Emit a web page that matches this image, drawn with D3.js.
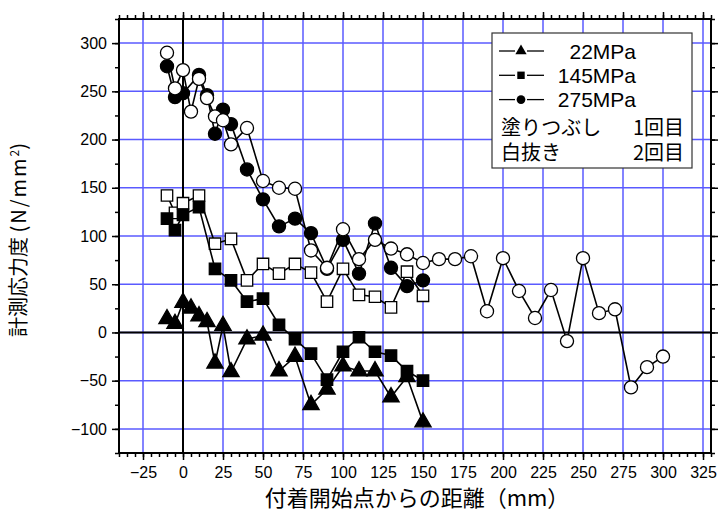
<!DOCTYPE html>
<html>
<head>
<meta charset="utf-8">
<script src="https://cdn.jsdelivr.net/npm/d3@7"></script>
<style>
  body { margin: 0; background: #fff; }
  svg text { font-family: "Liberation Sans", Arial, sans-serif; }
  .jp { font-family: "Noto Sans CJK JP", sans-serif; }
</style>
</head>
<body>
<svg width="718" height="520"></svg>
<script>
// 22MPa (1st run, filled triangles)
var x22 = [-10, -5, 0, 5, 10, 15, 20, 25, 30, 40, 50, 60, 70, 80, 90, 100, 110, 120, 130, 140, 150];
var y22 = [14, 9, 31, 25, 17, 11, -32, 7, -41, -7, -3, -40, -25, -75, -59, -35, -40, -40, -67, -46, -93];

// 145MPa
var x145a = [-10, -5, 0, 10, 20, 30, 40, 50, 60, 70, 80, 90, 100, 110, 120, 130, 140, 150];
var y145a = [118, 106, 122, 130, 66, 54, 32, 35, 8, -7, -22, -49, -20, -5, -20, -24, -40, -50];
var x145b = [-10, -5, 0, 10, 20, 30, 40, 50, 60, 70, 80, 90, 100, 110, 120, 130, 140, 150];
var y145b = [142, 124, 134, 142, 92, 97, 54, 71, 61, 71, 62, 32, 66, 39, 37, 26, 63, 38];

// 275MPa
var x275a = [-10, -5, 0, 10, 15, 20, 25, 30, 40, 50, 60, 70, 80, 90, 100, 110, 120, 130, 140, 150];
var y275a = [276, 244, 248, 267, 246, 206, 231, 216, 169, 138, 110, 118, 103, 66, 96, 61, 113, 67, 48, 54];
var x275b = [-10, -5, 0, 5, 10, 15, 20, 25, 30, 40, 50, 60, 70, 80, 90, 100, 110, 120, 130, 140, 150,
             160, 170, 180, 190, 200, 210, 220, 230, 240, 250, 260, 270, 280, 290, 300];
var y275b = [290, 253, 272, 229, 263, 243, 224, 220, 195, 212, 157, 150, 149, 85, 67, 107, 76, 96, 87, 81, 72,
             76, 76, 79, 22, 77, 43, 15, 44, -9, 77, 20, 24, -57, -36, -25];

var xTicks = d3.range(-25, 326, 25);
var yTicks = d3.range(-100, 301, 50);
var legendLabels = ["22MPa", "145MPa", "275MPa"];

var svg = d3.select("svg");
var pL = 119, pR = 711, pT = 19, pB = 453;

var x = d3.scaleLinear().domain([-40, 330]).range([pL, pR]);
var y = d3.scaleLinear().domain([-125, 325]).range([pB, pT]);

// grid
svg.append("g").selectAll("line").data(xTicks).enter().append("line")
    .attr("x1", function(d) { return x(d); }).attr("x2", function(d) { return x(d); })
    .attr("y1", pT).attr("y2", pB)
    .attr("stroke", "#5a5aff").attr("stroke-width", 1.5);
svg.append("g").selectAll("line").data(yTicks).enter().append("line")
    .attr("y1", function(d) { return y(d); }).attr("y2", function(d) { return y(d); })
    .attr("x1", pL).attr("x2", pR)
    .attr("stroke", "#5a5aff").attr("stroke-width", 1.5);

// zero lines
svg.append("line").attr("x1", x(0)).attr("x2", x(0)).attr("y1", pT).attr("y2", pB)
    .attr("stroke", "#000").attr("stroke-width", 2);
svg.append("line").attr("y1", y(0)).attr("y2", y(0)).attr("x1", pL).attr("x2", pR)
    .attr("stroke", "#000").attr("stroke-width", 2);

// axes
function styleAxis(g) {
    g.select(".domain").remove();
    g.selectAll("line").attr("stroke", "#000").attr("stroke-width", 1.5);
    g.selectAll("text").attr("font-size", 16).attr("fill", "#000");
}
function minus(d) { return d < 0 ? "\u2212" + (-d) : d; }
var xMinor = d3.range(-40, 331, 5);
var yMinor = d3.range(-125, 326, 25);

svg.append("g").attr("transform", "translate(0," + pB + ")")
    .call(d3.axisBottom(x).tickValues(xMinor).tickSize(4).tickFormat(""))
    .call(styleAxis);
svg.append("g").attr("transform", "translate(0," + pB + ")")
    .call(d3.axisBottom(x).tickValues(xTicks).tickSize(7).tickPadding(7).tickFormat(minus))
    .call(styleAxis);
svg.append("g").attr("transform", "translate(0," + pT + ")")
    .call(d3.axisTop(x).tickValues(xMinor).tickSize(4).tickFormat(""))
    .call(styleAxis);
svg.append("g").attr("transform", "translate(0," + pT + ")")
    .call(d3.axisTop(x).tickValues(xTicks).tickSize(7).tickFormat(""))
    .call(styleAxis);

svg.append("g").attr("transform", "translate(" + pL + ",0)")
    .call(d3.axisLeft(y).tickValues(yMinor).tickSize(4).tickFormat(""))
    .call(styleAxis);
svg.append("g").attr("transform", "translate(" + pL + ",0)")
    .call(d3.axisLeft(y).tickValues(yTicks).tickSize(7).tickPadding(5).tickFormat(minus))
    .call(styleAxis);
svg.append("g").attr("transform", "translate(" + pR + ",0)")
    .call(d3.axisRight(y).tickValues(yMinor).tickSize(4).tickFormat(""))
    .call(styleAxis);
svg.append("g").attr("transform", "translate(" + pR + ",0)")
    .call(d3.axisRight(y).tickValues(yTicks).tickSize(7).tickFormat(""))
    .call(styleAxis);

// frame
svg.append("rect").attr("x", pL).attr("y", pT)
    .attr("width", pR - pL).attr("height", pB - pT)
    .attr("fill", "none").attr("stroke", "#000").attr("stroke-width", 2);

// series
var line = d3.line().x(function(d) { return x(d[0]); }).y(function(d) { return y(d[1]); });
var symTri = d3.symbol().type(d3.symbolTriangle).size(115);
var symSq = d3.symbol().type(d3.symbolSquare).size(130);
var symCirc = d3.symbol().type(d3.symbolCircle).size(135);

function drawSeries(xs, ys, sym, filled) {
    var pts = d3.zip(xs, ys);
    svg.append("path").datum(pts).attr("d", line)
        .attr("fill", "none").attr("stroke", "#000").attr("stroke-width", 1.6);
    svg.append("g").selectAll("path").data(pts).enter().append("path")
        .attr("d", sym)
        .attr("transform", function(d) { return "translate(" + x(d[0]) + "," + y(d[1]) + ")"; })
        .attr("fill", filled ? "#000" : "#fff")
        .attr("stroke", "#000").attr("stroke-width", 1.3);
}
drawSeries(x145b, y145b, symSq, false);
drawSeries(x145a, y145a, symSq, true);
drawSeries(x22, y22, symTri, true);
drawSeries(x275a, y275a, symCirc, true);
drawSeries(x275b, y275b, symCirc, false);

// legend
var lg = svg.append("g");
lg.append("rect").attr("x", 492).attr("y", 33).attr("width", 200).attr("height", 135)
    .attr("fill", "#fff").attr("stroke", "#333").attr("stroke-width", 1.2);
var legSyms = [d3.symbol().type(d3.symbolTriangle).size(55),
               d3.symbol().type(d3.symbolSquare).size(55),
               d3.symbol().type(d3.symbolCircle).size(60)];
legendLabels.forEach(function(lab, i) {
    var cy = 51 + i * 24.3;
    lg.append("line").attr("x1", 499).attr("x2", 515).attr("y1", cy).attr("y2", cy)
        .attr("stroke", "#000").attr("stroke-width", 1.3);
    lg.append("line").attr("x1", 527).attr("x2", 544).attr("y1", cy).attr("y2", cy)
        .attr("stroke", "#000").attr("stroke-width", 1.3);
    lg.append("path").attr("d", legSyms[i]).attr("transform", "translate(521," + cy + ")").attr("fill", "#000");
    lg.append("text").attr("x", 636).attr("y", cy + 7.5).attr("text-anchor", "end")
        .attr("font-size", 21).text(lab);
});
lg.append("text").attr("class", "jp").attr("x", 501).attr("y", 135).attr("font-size", 20).text("塗りつぶし");
lg.append("text").attr("class", "jp").attr("x", 684).attr("y", 135).attr("text-anchor", "end").attr("font-size", 20).text("1回目");
lg.append("text").attr("class", "jp").attr("x", 501).attr("y", 160).attr("font-size", 20).text("白抜き");
lg.append("text").attr("class", "jp").attr("x", 684).attr("y", 160).attr("text-anchor", "end").attr("font-size", 20).text("2回目");

// axis titles
svg.append("text").attr("class", "jp").attr("x", 417).attr("y", 506)
    .attr("text-anchor", "middle").attr("font-size", 22).text("付着開始点からの距離（mm）");
var yt = svg.append("text").attr("class", "jp")
    .attr("transform", "translate(26,240) rotate(-90)")
    .attr("text-anchor", "middle").attr("font-size", 20);
yt.append("tspan").text("計測応力度 ");
yt.append("tspan").attr("letter-spacing", 2).text("(N/mm");
yt.append("tspan").attr("dy", -7).attr("font-size", 12).text("2");
yt.append("tspan").attr("dy", 7).text(")");
</script>
</body>
</html>
